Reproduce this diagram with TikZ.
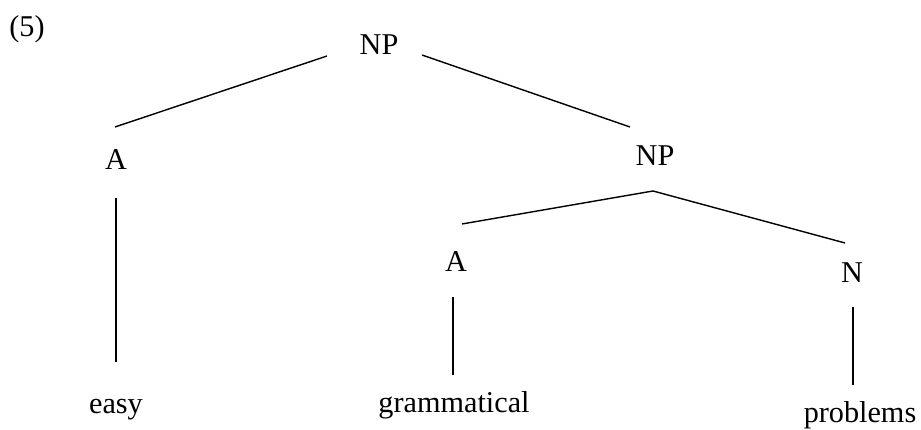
\documentclass[tikz,border=0pt]{standalone}
\usepackage{fontspec}
\setmainfont{Liberation Serif}
\usepackage{tikz}
\usetikzlibrary{calc}

\begin{document}
\begin{tikzpicture}[scale=1.0,line width=1pt,
    cat/.style={anchor=base,inner sep=0pt,font=\fontsize{21.5}{26}\selectfont}]
  \useasboundingbox (0,0) rectangle (23.025,10.75);
  % labels
  \node[cat] (ex) at (0.675,9.825) {(5)};
  \node[cat] (np) at (9.475,9.375) {NP};
  \node[cat] (a) at (2.9,6.5) {A};
  \node[cat] (np2) at (16.375,6.6) {NP};
  \node[cat] (a2) at (11.4,3.95) {A};
  \node[cat] (n) at (21.3,3.675) {N};
  \node[cat] (easy) at (2.9,0.4) {easy};
  \node[cat] (gram) at (11.35,0.425) {grammatical};
  \node[cat] (prob) at (21.5,0.175) {problems};
  % branch ends
  \coordinate (np-l) at (8.175,9.35);
  \coordinate (np-r) at (10.55,9.375);
  \coordinate (a-up) at (2.875,7.575);
  \coordinate (np2-up) at (15.75,7.575);
  \coordinate (a-dn) at (2.9,5.8);
  \coordinate (easy-up) at (2.9,1.7);
  \coordinate (np2-dn) at (16.325,5.975);
  \coordinate (a2-up) at (11.55,5.15);
  \coordinate (n-up) at (21.125,4.675);
  \coordinate (a2-dn) at (11.325,3.325);
  \coordinate (gram-up) at (11.325,1.375);
  \coordinate (n-dn) at (21.325,3.075);
  \coordinate (prob-up) at (21.325,1.125);
  % branches
  \draw (np-l) -- (a-up);
  \draw (np-r) -- (np2-up);
  \draw (a-dn) -- (easy-up);
  \draw (a2-up) -- (np2-dn) -- (n-up);
  \draw (a2-dn) -- (gram-up);
  \draw (n-dn) -- (prob-up);
\end{tikzpicture}
\end{document}
